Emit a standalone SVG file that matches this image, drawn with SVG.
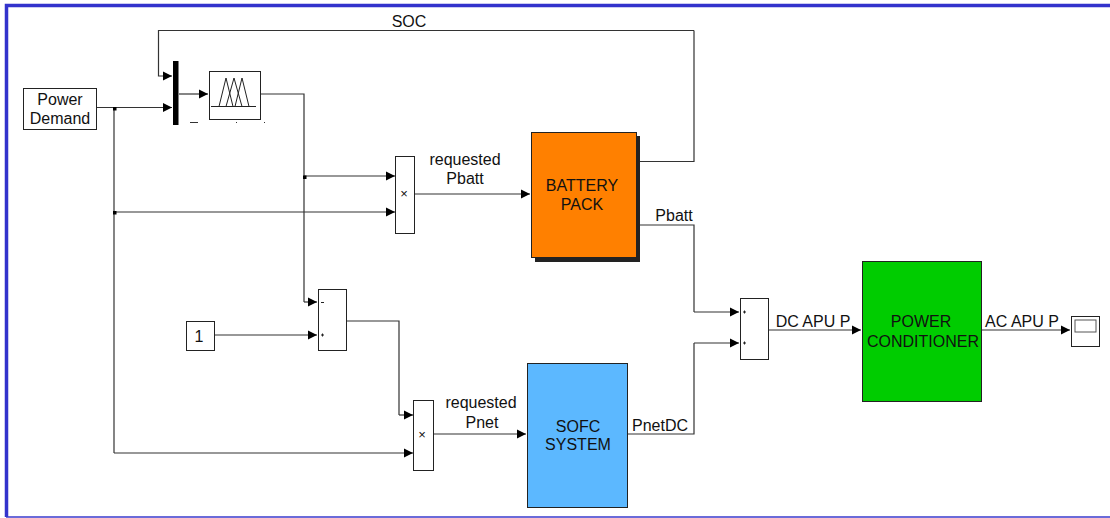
<svg xmlns="http://www.w3.org/2000/svg" width="1110" height="518" viewBox="0 0 1110 518">
<defs>
<marker id="a" markerUnits="userSpaceOnUse" markerWidth="10" markerHeight="10" refX="9" refY="5" orient="auto"><path d="M0 0.500L9 5L0 9.500Z" fill="#000"/></marker>
</defs>
<style>
text{font-family:"Liberation Sans",Arial,sans-serif;font-size:16px;fill:#111;text-anchor:middle}
.b{fill:#fff;stroke:#222;stroke-width:1}
.c{fill:none;stroke:#333;stroke-width:1.2}
.ar{marker-end:url(#a)}
.x{font-size:13px}
.j{fill:#000}
</style>
<rect width="1110" height="518" fill="#fff"/>
<path d="M1110 5.500H6.500V517" fill="none" stroke="#3333cc" stroke-width="3.500"/>
<path d="M6 517H1110" stroke="#3a3acc" stroke-width="1.500" fill="none"/>
<g id="connectors">
<path class="c ar" d="M96 107.500H172"/>
<path class="c ar" d="M694 30.500H158.500V76H172"/>
<path class="c" d="M637 161.500H694V30.500"/>
<path class="c ar" d="M179 94H208"/>
<path class="c" d="M259 94H304V302"/>
<path class="c ar" d="M304 302H317"/>
<path class="c ar" d="M304 176H395"/>
<path class="c" d="M114 107.500V453"/>
<path class="c ar" d="M114 212H395"/>
<path class="c ar" d="M114 453H413"/>
<path class="c ar" d="M214 335H317"/>
<path class="c" d="M345 321H399V415"/>
<path class="c ar" d="M399 415H413"/>
<path class="c ar" d="M413 194H530"/>
<path class="c ar" d="M433 434H526"/>
<path class="c" d="M637 225H694V312"/>
<path class="c ar" d="M694 312H739"/>
<path class="c" d="M628 434H694V343"/>
<path class="c ar" d="M694 343H739"/>
<path class="c ar" d="M767 330H861"/>
<path class="c ar" d="M981 330H1070"/>
<rect class="j" x="113" y="107" width="3.500" height="3.500"/>
<rect class="j" x="303" y="175.500" width="3.500" height="3.500"/>
<rect class="j" x="113" y="211" width="3.500" height="3.500"/>
</g>
<g id="power-demand"><rect class="b" x="23.500" y="88.500" width="73" height="41"/><text x="60" y="105">Power</text><text x="60" y="124">Demand</text></g>
<g id="mux"><rect x="173" y="61" width="5.500" height="64" fill="#000"/></g>
<g id="fuzzy"><rect class="b" x="209.500" y="71.500" width="51" height="48"/>
<path d="M211 106.500H256M219 106.500L226 78L233 106.500M226 106.500L234 78L242 106.500M235 106.500L242 78L249 106.500" fill="none" stroke="#222" stroke-width="1"/>
<path d="M190 122.500H198M236 122.500H237M264 122.500H265" stroke="#333" stroke-width="1"/></g>
<g id="product-batt"><rect class="b" x="395.500" y="156.500" width="19" height="77"/><text class="x" x="404" y="198">×</text></g>
<g id="sum-1"><rect class="b" x="318.500" y="289.500" width="28" height="61"/><path d="M321 302.500H324M321 335H324M322.500 333.500V336.500" stroke="#222" stroke-width="1" fill="none"/></g>
<g id="constant"><rect class="b" x="186.500" y="321.500" width="28" height="29"/><text x="199" y="342">1</text></g>
<g id="product-sofc"><rect class="b" x="413.500" y="400.500" width="20" height="70"/><text class="x" x="422" y="439">×</text></g>
<g id="battery-pack"><rect x="535" y="136" width="105" height="126" fill="#222"/><rect x="531.500" y="132.500" width="105" height="125" fill="#ff8000" stroke="#222"/><text x="582" y="191">BATTERY</text><text x="582" y="210">PACK</text></g>
<g id="sofc-system"><rect x="527.500" y="363.500" width="100" height="144" fill="#5cb8ff" stroke="#222"/><text x="578" y="432">SOFC</text><text x="578" y="450">SYSTEM</text></g>
<g id="sum-2"><rect class="b" x="740.500" y="298.500" width="28" height="61"/><path d="M743 312H746M744.500 310.500V313.500M743 343H746M744.500 341.500V344.500" stroke="#222" stroke-width="1" fill="none"/></g>
<g id="power-conditioner"><rect x="862.500" y="261.500" width="119" height="140" fill="#00cc00" stroke="#222"/><text x="921" y="327">POWER</text><text x="923" y="347">CONDITIONER</text></g>
<g id="scope"><rect class="b" x="1071.500" y="316.500" width="28" height="30"/><rect x="1075" y="320" width="21" height="12" fill="#fff" stroke="#555" stroke-width="1"/></g>
<g id="labels">
<text x="409" y="27">SOC</text>
<text x="465" y="165">requested</text><text x="465" y="184">Pbatt</text>
<text x="481" y="408">requested</text><text x="482" y="428">Pnet</text>
<text x="674" y="221">Pbatt</text>
<text x="660" y="431">PnetDC</text>
<text x="813" y="327">DC APU P</text>
<text x="1022" y="327">AC APU P</text>
</g>
</svg>
